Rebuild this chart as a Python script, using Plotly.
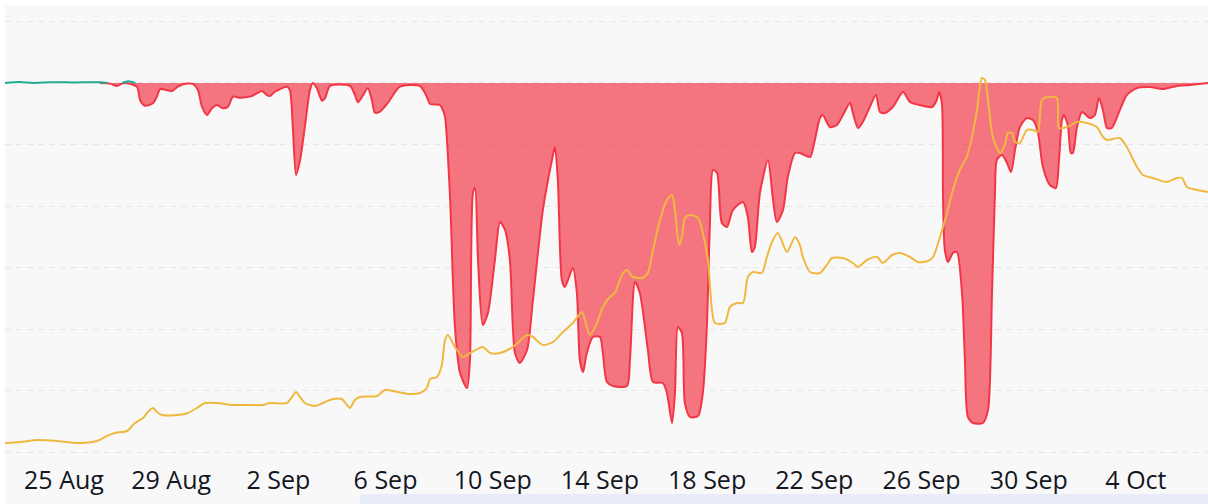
import pandas as pd
import plotly.graph_objects as go

# ---- data (time in days relative to BASE_DATE) ----
BASE_DATE = "2024-08-25"

# drawdown (%), red baseline series
dd_days = [1.34, 1.72, 1.98, 2.16, 2.30, 2.72, 2.84, 3.02, 3.32, 3.47, 3.58, 3.84, 4.03, 4.25, 4.59,
           4.81, 5.00, 5.15, 5.34, 5.52, 5.71, 5.93, 6.12, 6.31, 6.57, 6.94, 7.20, 7.39, 7.57, 7.69,
           7.87, 8.32, 8.43, 8.54, 8.66, 8.81, 8.99, 9.18, 9.29, 9.44, 9.63, 9.74, 9.93, 10.67, 10.86,
           10.97, 11.16, 11.34, 11.49, 11.60, 11.79, 12.09, 12.54, 13.28, 13.54, 13.66, 14.03, 14.14,
           14.22, 14.40, 14.59, 14.78, 15.04, 15.15, 15.26, 15.34, 15.45, 15.63, 15.82, 16.08, 16.27,
           16.46, 16.64, 16.83, 17.01, 17.28, 17.50, 17.87, 18.21, 18.32, 18.43, 18.58, 18.69, 18.99,
           19.14, 19.25, 19.37, 19.51, 19.74, 20.00, 20.11, 20.26, 20.49, 21.01, 21.12, 21.31, 21.49,
           21.79, 21.98, 22.35, 22.50, 22.69, 22.80, 22.91, 23.06, 23.17, 23.36, 23.66, 23.84, 23.99,
           24.10, 24.22, 24.37, 24.55, 24.74, 24.96, 25.34, 25.52, 25.67, 25.78, 25.97, 26.27, 26.46,
           26.60, 26.83, 27.01, 27.28, 27.46, 27.84, 28.02, 28.21, 28.32, 28.58, 28.84, 29.07, 29.33,
           29.44, 29.63, 29.81, 30.07, 30.30, 30.45, 30.63, 30.93, 31.31, 31.57, 31.94, 32.39, 32.57,
           32.65, 32.76, 32.80, 32.87, 32.99, 33.17, 33.32, 33.51, 33.62, 33.73, 33.92, 34.29, 34.48,
           34.63, 34.74, 34.81, 35.00, 35.19, 35.34, 35.49, 35.67, 35.93, 36.16, 36.34, 36.53, 36.79,
           37.01, 37.13, 37.24, 37.31, 37.46, 37.57, 37.65, 37.80, 37.99, 38.28, 38.47, 38.62, 38.77,
           38.92, 39.10, 39.40, 39.66, 40.04, 40.52, 41.01, 41.53, 42.01, 42.69]
dd_vals = [0.0, -0.05, -0.24, -0.05, 0.0, -0.30, -1.38, -1.85, -1.65, -1.11, -0.51, -0.57, -0.65, -0.30, -0.05,
           -0.08, -0.57, -1.93, -2.60, -2.06, -1.79, -2.06, -1.93, -1.11, -1.20, -1.11, -0.84, -0.65, -0.98, -1.06,
           -0.71, -0.30, -0.57, -3.55, -7.48, -6.26, -3.55, -0.57, 0.0, -0.43, -1.44, -1.24, -0.24, -0.24, -0.98,
           -1.57, -0.98, -0.43, -1.38, -2.41, -2.33, -1.60, -0.30, -0.24, -1.11, -1.71, -1.79, -2.20,
           -2.74, -8.94, -19.84, -23.58, -24.80, -22.52, -8.94, -8.54, -14.39, -19.67, -18.70, -14.39, -11.30,
           -11.95, -14.39, -21.95, -22.76, -21.71, -17.64, -10.33, -6.26, -5.20, -7.89, -16.02, -16.59, -15.04,
           -17.07, -22.52, -23.50, -21.95, -20.65, -20.65, -21.95, -24.31, -24.63, -24.63, -22.52, -16.18, -17.07,
           -21.71, -24.31, -24.39, -25.20, -27.64, -25.20, -19.84, -20.33, -26.02, -27.15, -27.07, -25.20, -19.84,
           -11.71, -7.07, -7.32, -11.38, -11.71, -10.33, -9.67, -10.89, -13.74, -13.33, -8.94, -6.26, -9.51,
           -11.30, -10.33, -7.64, -5.69, -5.69, -6.02, -4.63, -2.85, -2.60, -3.58, -3.41, -2.60, -1.63,
           -2.44, -3.66, -3.17, -1.95, -0.98, -2.36, -2.44, -1.95, -0.73, -1.54, -1.79, -1.95, -1.38,
           -0.73, -1.63, -8.94, -13.58, -14.55, -13.82, -13.74, -17.07, -22.52, -27.15, -27.64, -27.64, -26.59,
           -17.07, -8.94, -6.26, -5.85, -6.50, -7.24, -5.45, -3.58, -2.85, -3.01, -3.98, -6.83, -8.29,
           -8.54, -6.26, -3.01, -2.60, -3.41, -5.69, -5.69, -3.58, -2.36, -2.85, -2.60, -1.22, -2.20,
           -3.66, -3.66, -2.20, -0.98, -0.41, -0.33, -0.49, -0.24, -0.16, 0.0]

# portion at/above the baseline (teal)
up_days = [-2.20, -1.64, -1.16, -0.52, 0.40, 1.34, 1.62, None, 2.18, 2.39, 2.57, 2.66]
up_vals = [0.0, 0.08, 0.0, 0.06, 0.05, 0.06, 0.0, None, 0.0, 0.15, 0.06, 0.0]

# price (yellow line, right scale)
px_days = [-2.20, -1.64, -1.01, -0.26, 0.49, 1.23, 1.60, 1.90, 2.35, 2.65, 2.95, 3.13, 3.32, 3.47, 3.66,
           4.22, 4.63, 4.96, 5.26, 5.71, 6.31, 6.94, 7.43, 7.69, 8.32, 8.51, 8.66, 8.81, 8.99, 9.37,
           9.74, 10.04, 10.37, 10.56, 10.67, 10.86, 11.04, 11.68, 11.98, 12.46, 12.91, 13.28, 13.54, 13.66,
           13.92, 14.10, 14.22, 14.33, 14.59, 14.89, 15.22, 15.63, 15.90, 16.27, 16.75, 17.28, 17.50, 17.87,
           18.25, 18.62, 18.99, 19.33, 19.44, 19.63, 19.89, 20.11, 20.37, 20.56, 20.82, 21.01, 21.23, 21.60,
           21.79, 21.98, 22.24, 22.50, 22.69, 22.80, 22.95, 23.06, 23.17, 23.36, 23.66, 23.84, 24.03, 24.18,
           24.29, 24.66, 24.85, 25.11, 25.34, 25.52, 25.71, 26.04, 26.23, 26.42, 26.64, 26.98, 27.28, 27.46,
           27.57, 27.84, 28.21, 28.47, 28.66, 29.07, 29.44, 29.63, 29.96, 30.34, 30.56, 30.90, 31.19, 31.57,
           31.87, 32.24, 32.43, 32.69, 32.95, 33.17, 33.43, 33.69, 33.88, 34.07, 34.25, 34.37, 34.48, 34.66,
           34.93, 35.11, 35.22, 35.37, 35.49, 35.67, 35.93, 36.16, 36.34, 36.49, 36.68, 37.05, 37.13, 37.43,
           37.80, 38.17, 38.54, 38.77, 38.92, 39.40, 39.66, 40.04, 40.26, 40.63, 41.16, 41.53, 41.72, 41.90,
           42.28, 42.69]
px_vals = [0.57, 0.58, 0.60, 0.59, 0.57, 0.59, 0.64, 0.67, 0.69, 0.77, 0.82, 0.88, 0.92, 0.88, 0.85,
           0.85, 0.87, 0.92, 0.97, 0.97, 0.95, 0.95, 0.95, 0.97, 0.97, 1.03, 1.08, 1.03, 0.97, 0.94,
           0.98, 1.01, 1.01, 0.95, 0.92, 1.00, 1.03, 1.04, 1.10, 1.08, 1.06, 1.07, 1.12, 1.21,
           1.23, 1.35, 1.60, 1.65, 1.53, 1.43, 1.48, 1.53, 1.47, 1.47, 1.53, 1.65, 1.63, 1.55,
           1.58, 1.68, 1.77, 1.88, 1.80, 1.65, 1.77, 1.93, 2.03, 2.07, 2.25, 2.30, 2.23, 2.22,
           2.27, 2.50, 2.80, 3.00, 3.05, 2.90, 2.55, 2.63, 2.82, 2.85, 2.82, 2.67, 2.40, 1.90,
           1.77, 1.77, 1.93, 1.97, 1.97, 2.23, 2.28, 2.27, 2.43, 2.58, 2.67, 2.48, 2.63, 2.55,
           2.43, 2.28, 2.27, 2.35, 2.42, 2.42, 2.37, 2.33, 2.40, 2.43, 2.37, 2.45, 2.47, 2.43,
           2.38, 2.39, 2.43, 2.63, 2.87, 3.10, 3.30, 3.43, 3.63, 3.90, 4.22, 4.20, 4.00, 3.63,
           3.47, 3.55, 3.67, 3.67, 3.58, 3.57, 3.70, 3.70, 3.68, 4.00, 4.03, 4.02, 3.72, 3.73,
           3.78, 3.77, 3.73, 3.63, 3.60, 3.62, 3.53, 3.33, 3.25, 3.22, 3.18, 3.22, 3.22, 3.13,
           3.10, 3.08]

X_START_DAYS = -2.20
X_END_DAYS = 42.69


def to_dates(days):
    base = pd.Timestamp(BASE_DATE)
    return [None if d is None else base + pd.to_timedelta(d, unit="D") for d in days]


fig = go.Figure()

fig.add_trace(go.Scatter(
    x=to_dates(dd_days), y=dd_vals, mode="lines",
    line=dict(color="#f23645", width=2, shape="spline", smoothing=0.7),
    fill="tozeroy", fillcolor="rgba(242,54,69,0.68)",
    hoverinfo="skip", showlegend=False,
))
fig.add_trace(go.Scatter(
    x=to_dates(up_days), y=up_vals, mode="lines",
    line=dict(color="#22ab94", width=2, shape="spline", smoothing=0.7),
    connectgaps=False, hoverinfo="skip", showlegend=False,
))
fig.add_trace(go.Scatter(
    x=to_dates(px_days), y=px_vals, mode="lines", yaxis="y2",
    line=dict(color="#efb941", width=2, shape="spline", smoothing=0.7),
    hoverinfo="skip", showlegend=False,
))

x0, x1 = to_dates([X_START_DAYS, X_END_DAYS])

fig.update_layout(
    width=1208, height=504,
    margin=dict(l=5, r=0, t=5, b=42),
    paper_bgcolor="white",
    plot_bgcolor="#f8f8f8",
    font=dict(family="Open Sans", size=25, color="#131722"),
    xaxis=dict(
        range=[x0, x1], showgrid=False, zeroline=False, showline=False,
        tick0=BASE_DATE, dtick=4 * 86400000, tickformat="%-d %b",
        ticks="", ticklabelstandoff=1,
        tickfont=dict(family="Open Sans", size=25, color="#131722"),
    ),
    yaxis=dict(
        range=[-30.81, 6.34], dtick=5, tick0=0, showticklabels=False,
        showgrid=True, gridcolor="#e6e6e6", griddash="6px,5px", gridwidth=1,
        zeroline=False, showline=False,
    ),
    yaxis2=dict(
        range=[0.38, 4.95], overlaying="y", side="right",
        showgrid=False, showticklabels=False, zeroline=False, showline=False,
    ),
    shapes=[
        dict(type="rect", xref="paper", yref="paper", x0=0, x1=1.01, y0=-0.2, y1=0,
             fillcolor="#f8f8f8", line=dict(width=0), layer="below"),
        dict(type="rect", xref="paper", yref="paper", x0=0.295, x1=1.01, y0=-0.2, y1=-0.070,
             fillcolor="#e8ecf8", line=dict(width=0), layer="above"),
    ],
)

fig.write_html(
    "out.html",
    config={"displayModeBar": False},
    post_script="document.body.style.margin='0px';document.body.style.overflow='hidden';",
)
